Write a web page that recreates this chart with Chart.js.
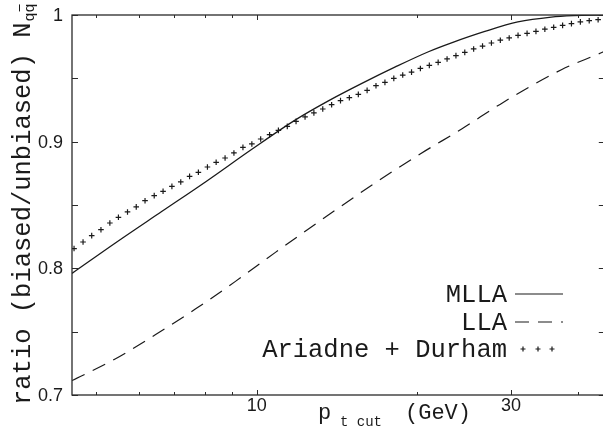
<!DOCTYPE html>
<html>
<head>
<meta charset="utf-8">
<script src="https://cdn.jsdelivr.net/npm/chart.js@4/dist/chart.umd.min.js"></script>
<style>
    html, body { margin: 0; padding: 0; background: #fff; overflow: hidden; }
    canvas { display: block; }
</style>
</head>
<body>
<canvas id="chart" width="610" height="427"></canvas>
<script>
// Data
const mllaPt = [4.5, 5.47, 6.64, 8.06, 9.79, 11.8, 13.6, 15.75, 18.2, 21.0, 23.2, 26.8, 30.9, 35.7, 39.3, 45];
const mllaRatio = [0.796, 0.821, 0.845, 0.869, 0.894, 0.917, 0.932, 0.946, 0.959, 0.971, 0.978, 0.987, 0.9945, 0.9984, 0.9995, 1.0];

const llaPt = [4.5, 5.40, 6.46, 7.68, 9.12, 10.84, 14.24, 16.93, 20.26, 24.24, 29.0, 37.3, 44.2, 45];
const llaRatio = [0.7114, 0.728, 0.7477, 0.768, 0.7897, 0.8126, 0.8477, 0.8692, 0.8903, 0.9100, 0.9310, 0.9568, 0.970, 0.9715];

const ariadnePt = [4.54, 4.72, 4.90, 5.10, 5.30, 5.50, 5.72, 5.94, 6.17, 6.42,
    6.67, 6.93, 7.20, 7.48, 7.77, 8.08, 8.39, 8.72, 9.06, 9.42,
    9.79, 10.17, 10.57, 10.98, 11.41, 11.85, 12.32, 12.80, 13.30, 13.82,
    14.36, 14.92, 15.51, 16.11, 16.74, 17.40, 18.08, 18.79, 19.52, 20.28,
    21.08, 21.90, 22.76, 23.65, 24.57, 25.53, 26.53, 27.57, 28.65, 29.77,
    30.93, 32.16, 33.42, 34.73, 36.08, 37.50, 38.96, 40.49, 42.07, 43.72];
const ariadneRatio = [0.8156, 0.8208, 0.8258, 0.8305, 0.8358, 0.8403, 0.8445, 0.8485, 0.8534, 0.8574,
    0.8608, 0.8647, 0.8682, 0.8726, 0.8758, 0.8800, 0.8837, 0.8871, 0.8911, 0.8955,
    0.8982, 0.9021, 0.9055, 0.9089, 0.9121, 0.9160, 0.9195, 0.9227, 0.9258, 0.9292,
    0.9324, 0.9347, 0.9373, 0.9405, 0.9442, 0.9468, 0.9500, 0.9526, 0.9549, 0.9578,
    0.9602, 0.9626, 0.9653, 0.9679, 0.9705, 0.9732, 0.9755, 0.9779, 0.9801, 0.9819,
    0.9839, 0.9855, 0.9871, 0.9888, 0.9903, 0.9918, 0.9932, 0.9946, 0.9955, 0.9963];

const seriesLabels = ['MLLA', 'LLA', 'Ariadne + Durham'];

// Axis ticks
const xMajorTicks = [10, 30];
const xMinorTicks = [5, 6, 7, 8, 9, 20, 40];
const yTicks = [0.7, 0.8, 0.9, 1];
const yTickLabels = ['0.7', '0.8', '0.9', '1'];
const yMinorTicks = [0.75, 0.85, 0.95];

const ink = '#1a1a1a';
const monoFont = '"Liberation Mono", "DejaVu Sans Mono", monospace';
const sansFont = '"Liberation Sans", Arial, sans-serif';

const toPoints = (xs, ys) => xs.map((x, i) => ({ x: x, y: ys[i] }));

// Frame, inward ticks, tick labels and axis titles
const framePlugin = {
    id: 'frame',
    afterDatasetsDraw(chart) {
        const { ctx, chartArea: a, scales: { x, y } } = chart;
        ctx.save();
        ctx.strokeStyle = '#2a2a2a';
        ctx.lineWidth = 1.3;
        ctx.strokeRect(a.left, a.top, a.right - a.left, a.bottom - a.top);

        ctx.lineWidth = 1;
        ctx.beginPath();
        const xTick = (v, len) => {
            const px = Math.round(x.getPixelForValue(v)) + 0.5;
            ctx.moveTo(px, a.bottom); ctx.lineTo(px, a.bottom - len);
            ctx.moveTo(px, a.top); ctx.lineTo(px, a.top + len);
        };
        xMajorTicks.forEach(v => xTick(v, 5));
        xMinorTicks.forEach(v => xTick(v, 3));
        yTicks.concat(yMinorTicks).forEach(v => {
            const py = Math.round(y.getPixelForValue(v)) + 0.5;
            ctx.moveTo(a.left, py); ctx.lineTo(a.left + 6, py);
            ctx.moveTo(a.right, py); ctx.lineTo(a.right - 6, py);
        });
        ctx.stroke();

        // tick labels
        ctx.fillStyle = ink;
        ctx.font = '18px ' + sansFont;
        ctx.textAlign = 'right';
        ctx.textBaseline = 'middle';
        yTicks.forEach((v, i) => {
            ctx.fillText(yTickLabels[i], 63, y.getPixelForValue(v) + 1);
        });
        ctx.textAlign = 'center';
        xMajorTicks.forEach(v => {
            ctx.fillText(String(v), x.getPixelForValue(v), a.bottom + 11);
        });

        // x title: p_{t cut} (GeV)
        ctx.textAlign = 'left';
        ctx.textBaseline = 'alphabetic';
        ctx.font = '22px ' + monoFont;
        ctx.fillText('p', 318, 419);
        ctx.fillText('(GeV)', 405, 419);
        ctx.font = '14px ' + monoFont;
        ctx.fillText('t cut', 340, 426);

        // y title: ratio (biased/unbiased) N_{q qbar}
        ctx.save();
        ctx.translate(30, 405);
        ctx.rotate(-Math.PI / 2);
        ctx.font = '25.5px ' + monoFont;
        const main = 'ratio (biased/unbiased) N';
        ctx.fillText(main, 0, 0);
        const w = ctx.measureText(main).width;
        ctx.font = '15px ' + monoFont;
        ctx.fillText('qq', w + 1, 4);
        const qw = ctx.measureText('q').width;
        ctx.beginPath();
        ctx.lineWidth = 1;
        ctx.strokeStyle = ink;
        ctx.moveTo(w + 1 + qw + 1, -10.5);
        ctx.lineTo(w + 1 + 2 * qw - 1, -10.5);
        ctx.stroke();
        ctx.restore();

        ctx.restore();
    }
};

// Legend: right-aligned text followed by a line sample
const legendPlugin = {
    id: 'sideLegend',
    afterDraw(chart) {
        const { ctx } = chart;
        const textRight = 507;
        const rows = [294, 322, 349];
        ctx.save();
        ctx.font = '25.5px ' + monoFont;
        ctx.fillStyle = ink;
        ctx.textAlign = 'right';
        ctx.textBaseline = 'alphabetic';
        chart.data.datasets.forEach((ds, i) => {
            const yy = rows[i];
            ctx.fillText(ds.label, textRight, yy + 8);
            ctx.strokeStyle = ink;
            ctx.lineWidth = 1.2;
            if (ds.showLine === false) {
                [523, 538, 552].forEach(px => {
                    ctx.beginPath();
                    ctx.moveTo(px - 2.5, yy); ctx.lineTo(px + 2.5, yy);
                    ctx.moveTo(px, yy - 2.5); ctx.lineTo(px, yy + 2.5);
                    ctx.stroke();
                });
            } else {
                ctx.beginPath();
                ctx.setLineDash(ds.borderDash || []);
                ctx.moveTo(515, yy); ctx.lineTo(563, yy);
                ctx.stroke();
                ctx.setLineDash([]);
            }
        });
        ctx.restore();
    }
};

new Chart(document.getElementById('chart').getContext('2d'), {
    type: 'line',
    data: {
        datasets: [
            {
                label: seriesLabels[0],
                data: toPoints(mllaPt, mllaRatio),
                borderColor: ink,
                borderWidth: 1.3,
                pointRadius: 0,
                cubicInterpolationMode: 'monotone',
                fill: false
            },
            {
                label: seriesLabels[1],
                data: toPoints(llaPt, llaRatio),
                borderColor: ink,
                borderWidth: 1.2,
                borderDash: [14, 9],
                pointRadius: 0,
                cubicInterpolationMode: 'monotone',
                fill: false
            },
            {
                label: seriesLabels[2],
                data: toPoints(ariadnePt, ariadneRatio),
                showLine: false,
                pointStyle: 'cross',
                pointRadius: 2.8,
                pointBorderWidth: 1.2,
                borderColor: ink,
                pointBorderColor: ink
            }
        ]
    },
    options: {
        responsive: false,
        animation: false,
        devicePixelRatio: 1,
        layout: { padding: { left: 72, top: 15, right: 4, bottom: 32 } },
        plugins: {
            legend: { display: false },
            tooltip: { enabled: false }
        },
        scales: {
            x: { type: 'logarithmic', min: 4.5, max: 45, display: false },
            y: { type: 'linear', min: 0.7, max: 1.0, display: false }
        }
    },
    plugins: [framePlugin, legendPlugin]
});
</script>
</body>
</html>
